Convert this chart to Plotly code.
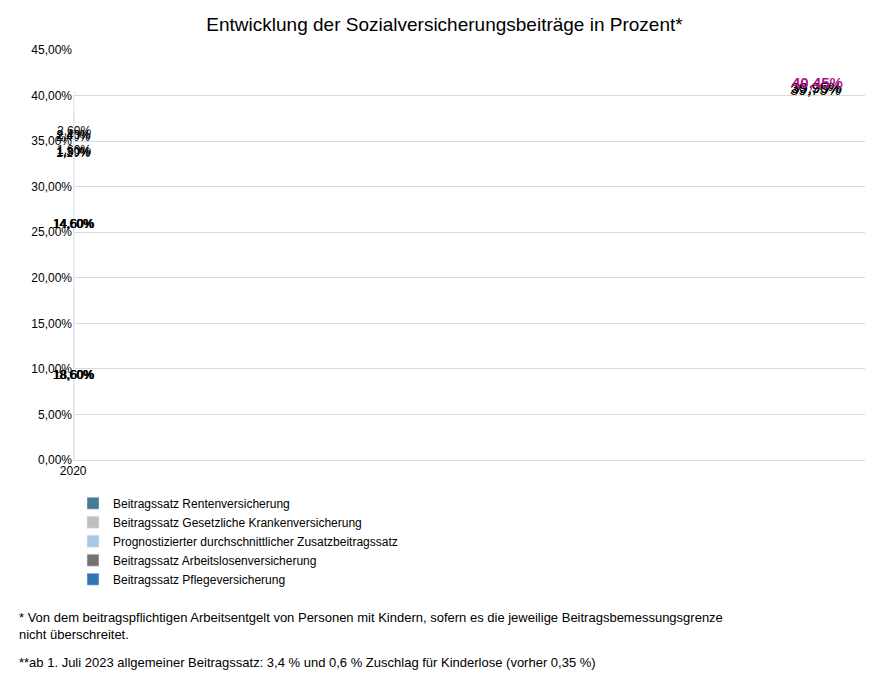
import plotly.graph_objects as go

years = ["2020", "2021", "2022", "2023"]
renten = [18.60, 18.60, 18.60, 18.60]
kranken = [14.60, 14.60, 14.60, 14.60]
zusatz = [1.10, 1.30, 1.30, 1.60]
arbeitslos = [2.40, 2.40, 2.40, 2.60]
pflege = [3.05, 3.05, 3.05, 3.05]
totals = ["39,75%", "39,95%", "39,95%", "40,45%"]
yticks = [0, 5, 10, 15, 20, 25, 30, 35, 40, 45]

def fmt(v):
    return "{:.2f}%".format(v).replace(".", ",")

series = [
    ("Beitragssatz Rentenversicherung", renten, "#457b93", "black"),
    ("Beitragssatz Gesetzliche Krankenversicherung", kranken, "#bfbfbf", "black"),
    ("Prognostizierter durchschnittlicher Zusatzbeitragssatz", zusatz, "#a9c8e6", "black"),
    ("Beitragssatz Arbeitslosenversicherung", arbeitslos, "#767171", "black"),
    ("Beitragssatz Pflegeversicherung", pflege, "#2e75b6", "white"),
]

fig = go.Figure()
for name, vals, color, tc in series:
    fig.add_trace(go.Bar(
        x=years, y=vals, name=name, marker_color=color, width=0.4,
        text=[fmt(v) for v in vals], textposition="inside", insidetextanchor="middle",
        textangle=0, textfont=dict(color=tc, size=12), cliponaxis=False,
    ))

stack = [sum(s[1][i] for s in series) for i in range(len(years))]
for i, y in enumerate(years):
    last = i == len(years) - 1
    fig.add_annotation(x=y, y=stack[i], text="<b>" + totals[i] + "</b>" if last else totals[i],
                       showarrow=False, yanchor="bottom", yshift=-2,
                       font=dict(size=15, color="#b0138c" if last else "black"))
fig.add_annotation(x=years[-1], y=stack[-1] - pflege[-1] / 2 + 0.3, text="**", showarrow=False,
                   xshift=52, font=dict(size=13, color="white"))

fig.add_annotation(xref="paper", yref="paper", x=-0.07, y=-0.36, xanchor="left", yanchor="top",
                   align="left", showarrow=False, font=dict(size=13, color="black"),
                   text="* Von dem beitragspflichtigen Arbeitsentgelt von Personen mit Kindern, sofern es die jeweilige Beitragsbemessungsgrenze<br>nicht überschreitet.")
fig.add_annotation(xref="paper", yref="paper", x=-0.07, y=-0.47, xanchor="left", yanchor="top",
                   align="left", showarrow=False, font=dict(size=13, color="black"),
                   text="**ab 1. Juli 2023 allgemeiner Beitragssatz: 3,4 % und 0,6 % Zuschlag für Kinderlose (vorher 0,35 %)")

fig.update_layout(
    width=873, height=678, barmode="stack",
    font=dict(family="Liberation Sans, Arial", size=12, color="black"),
    title=dict(text="Entwicklung der Sozialversicherungsbeiträge in Prozent*", x=0.5, y=0.985,
               xanchor="center", yanchor="top", font=dict(size=19)),
    margin=dict(l=65, r=5, t=42, b=226),
    plot_bgcolor="white", paper_bgcolor="white",
    uniformtext=dict(minsize=8, mode="show"),
    legend=dict(orientation="v", traceorder="normal", x=0.0, y=-0.07, xanchor="left", yanchor="top",
                font=dict(size=12), itemwidth=30, tracegroupgap=0),
    yaxis=dict(range=[0, 45], tickvals=yticks, ticktext=[fmt(v) for v in yticks],
               gridcolor="#d9d9d9", zeroline=False, showline=False, ticks=""),
    xaxis=dict(type="category", showline=True, linecolor="#d9d9d9", ticks=""),
)

fig.write_html("out.html")
